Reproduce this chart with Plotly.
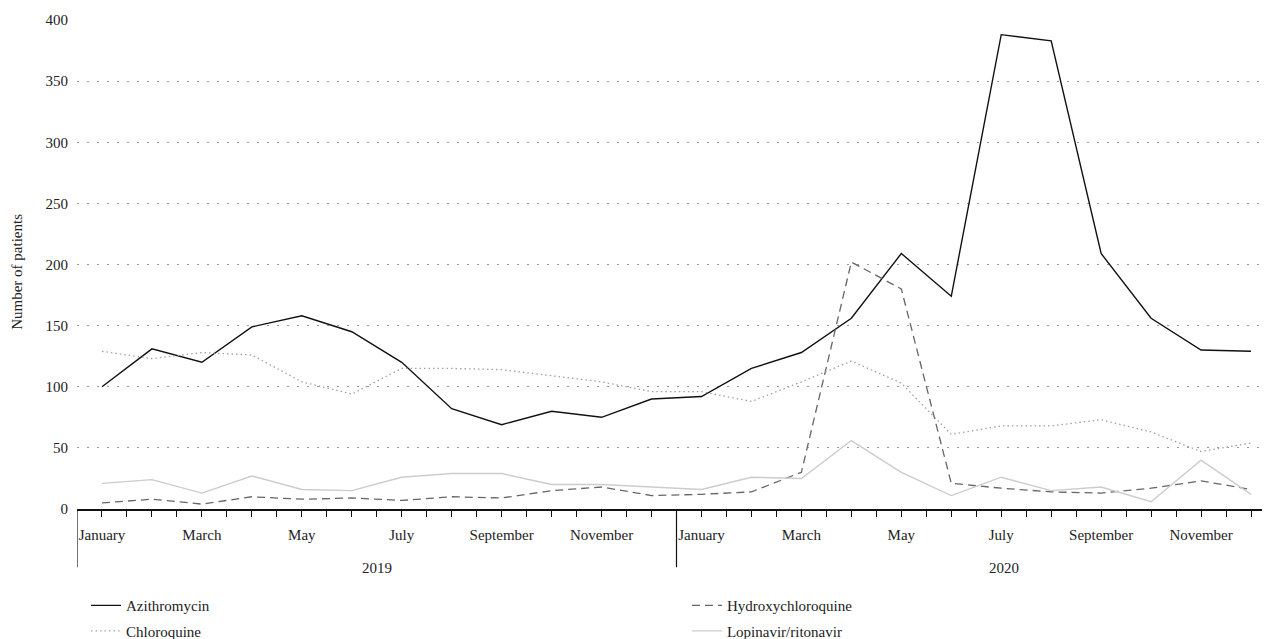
import plotly.graph_objects as go

months = ["January", "February", "March", "April", "May", "June", "July",
          "August", "September", "October", "November", "December"]
years = ["2019", "2020"]
month_labels = [m if i % 2 == 0 else "" for i, m in enumerate(months)] * 2

azithromycin = [100, 131, 120, 149, 158, 145, 120, 82, 69, 80, 75, 90,
                92, 115, 128, 156, 209, 174, 388, 383, 209, 156, 130, 129]
hydroxychloroquine = [5, 8, 4, 10, 8, 9, 7, 10, 9, 15, 18, 11,
                      12, 14, 30, 202, 180, 21, 17, 14, 13, 17, 23, 16]
chloroquine = [129, 123, 128, 126, 104, 94, 115, 115, 114, 109, 104, 96,
               96, 88, 104, 121, 103, 61, 68, 68, 73, 63, 47, 54]
lopinavir = [21, 24, 13, 27, 16, 15, 26, 29, 29, 20, 20, 18,
             16, 26, 25, 56, 30, 11, 26, 15, 18, 6, 40, 12]

x = list(range(24))
FONT = "Liberation Serif"
FS = 15

fig = go.Figure()
fig.add_trace(go.Scatter(x=x, y=azithromycin, mode="lines", name="Azithromycin",
                         legend="legend", legendgroup="a",
                         line=dict(color="#111111", width=1.4)))
fig.add_trace(go.Scatter(x=x, y=hydroxychloroquine, mode="lines", name="Hydroxychloroquine",
                         legend="legend2", legendgroup="b",
                         line=dict(color="#666666", width=1.3, dash="8px,5px")))
fig.add_trace(go.Scatter(x=x, y=chloroquine, mode="lines", name="Chloroquine",
                         legend="legend", legendgroup="c",
                         line=dict(color="#a0a0a0", width=1.3, dash="1.5px,3px")))
fig.add_trace(go.Scatter(x=x, y=lopinavir, mode="lines", name="Lopinavir/ritonavir",
                         legend="legend2", legendgroup="d",
                         line=dict(color="#cccccc", width=1.4)))

# separators below the month axis
for xv in [-0.5, 11.5]:
    fig.add_shape(type="line", xref="x", yref="paper", x0=xv, x1=xv, y0=0, y1=-0.119,
                  line=dict(color="#111111", width=1.2))

fig.add_annotation(x=5.5, y=-0.1, xref="x", yref="paper", text=years[0], showarrow=False,
                   yanchor="top", font=dict(family=FONT, size=FS, color="#222222"))
fig.add_annotation(x=18.05, y=-0.1, xref="x", yref="paper", text=years[1], showarrow=False,
                   yanchor="top", font=dict(family=FONT, size=FS, color="#222222"))
# y-axis title
fig.add_annotation(x=-0.0503, y=0.485, xref="paper", yref="paper", text="Number of patients",
                   textangle=-90, showarrow=False, xanchor="center", yanchor="middle",
                   font=dict(family=FONT, size=FS, color="#222222"))

legend_common = dict(orientation="v", xanchor="left", xref="container", yref="container",
                     y=0.079, yanchor="top", tracegroupgap=3,
                     font=dict(family=FONT, size=FS, color="#222222"),
                     itemwidth=30, bgcolor="rgba(0,0,0,0)")

fig.update_layout(
    width=1262, height=631,
    margin=dict(l=69, r=0, t=12, b=130, autoexpand=False),
    paper_bgcolor="white", plot_bgcolor="white",
    font=dict(family=FONT, size=FS, color="#222222"),
    showlegend=True,
    legend=dict(x=0.0618, **legend_common),
    legend2=dict(x=0.538, **legend_common),
    xaxis=dict(range=[-0.5, 23.38], tickmode="array", tickvals=x, ticktext=month_labels,
               ticks="outside", ticklen=6, tickwidth=1, tickcolor="#111111",
               showline=True, linecolor="#111111", linewidth=1.5,
               showgrid=False, zeroline=False, automargin=False,
               minor=dict(tickmode="array", tickvals=[v + 0.5 for v in x], ticks="outside",
                          ticklen=6, tickwidth=1, tickcolor="#111111", showgrid=False),
               tickfont=dict(family=FONT, size=FS, color="#222222"),
               ticklabelstandoff=5),
    yaxis=dict(range=[0, 400], tickvals=[0, 50, 100, 150, 200, 250, 300, 350, 400],
               showgrid=True, gridcolor="#999999", gridwidth=1, griddash="1.5px,8.5px",
               zeroline=False, showline=False, ticks="", automargin=False,
               tickfont=dict(family=FONT, size=FS, color="#222222"),
               ticklabelstandoff=8),
)

fig.write_html("out.html")
